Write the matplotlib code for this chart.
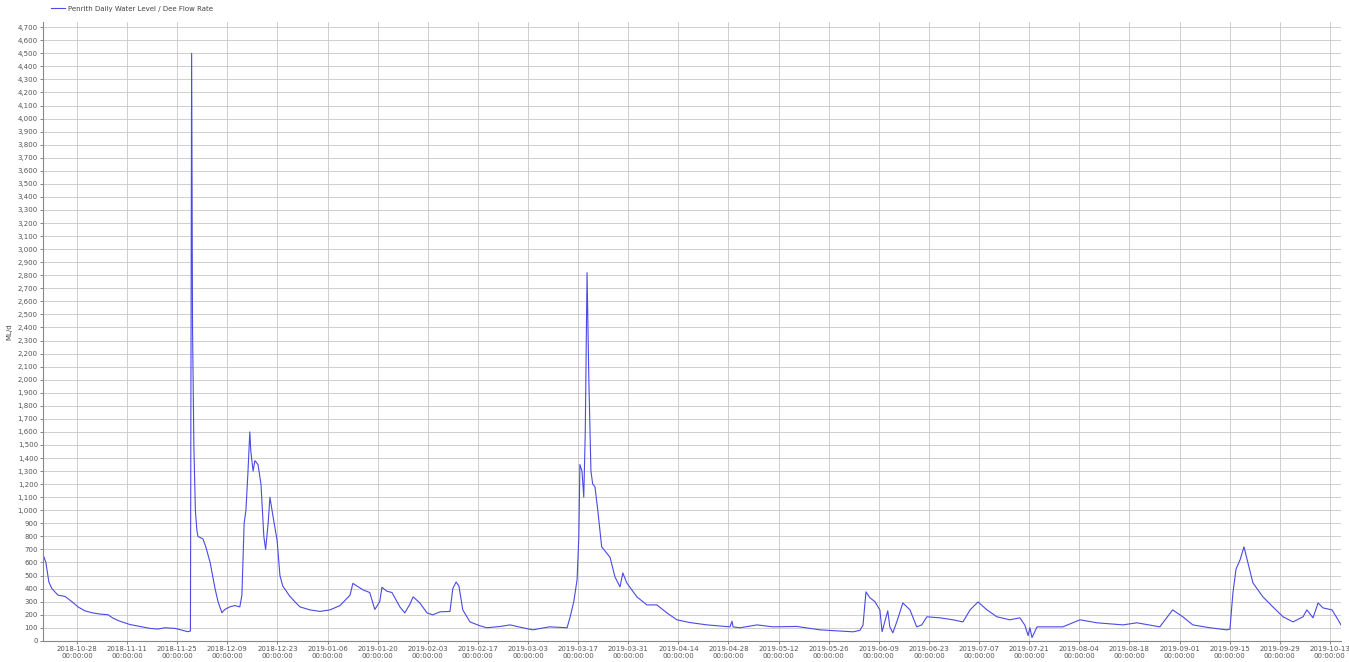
"""
Penrith daily water level / flow rate chart (ML/d), Oct 2018 - Oct 2019.
"""

#%%

import pandas as pd
import numpy as np
import matplotlib
matplotlib.use("Agg")
import matplotlib.pyplot as plt
import matplotlib.dates as mdates
from matplotlib.ticker import MultipleLocator, FuncFormatter

#%%

#=============================
# 0. Data
#=============================

series_name = "Penrith Daily Water Level / Dee Flow Rate"
y_label = "ML/d"

obs_time = [
    "2018-10-18 16:00", "2018-10-19 08:00", "2018-10-20 04:00", "2018-10-21 00:00",
    "2018-10-22 17:00", "2018-10-24 16:00", "2018-10-26 14:00", "2018-10-28 07:00",
    "2018-10-30 05:00", "2018-11-01 05:00", "2018-11-03 10:00", "2018-11-05 16:00",
    "2018-11-07 00:00", "2018-11-09 00:00", "2018-11-11 19:00", "2018-11-14 14:00",
    "2018-11-17 10:00", "2018-11-19 14:00", "2018-11-21 14:00", "2018-11-24 10:00",
    "2018-11-26 14:00", "2018-11-28 00:00", "2018-11-28 17:00", "2018-11-29 01:00",
    "2018-11-29 07:00", "2018-11-29 16:00", "2018-11-30 02:00", "2018-11-30 12:00",
    "2018-11-30 19:00", "2018-12-02 05:00", "2018-12-03 00:00", "2018-12-04 05:00",
    "2018-12-05 14:00", "2018-12-06 10:00", "2018-12-07 12:00", "2018-12-08 07:00",
    "2018-12-09 17:00", "2018-12-11 02:00", "2018-12-12 12:00", "2018-12-13 02:00",
    "2018-12-13 17:00", "2018-12-14 05:00", "2018-12-14 19:00", "2018-12-15 07:00",
    "2018-12-15 14:00", "2018-12-16 05:00", "2018-12-16 17:00", "2018-12-17 14:00",
    "2018-12-18 10:00", "2018-12-19 05:00", "2018-12-19 17:00", "2018-12-20 10:00",
    "2018-12-20 22:00", "2018-12-21 19:00", "2018-12-22 22:00", "2018-12-23 17:00",
    "2018-12-24 12:00", "2018-12-26 12:00", "2018-12-28 05:00", "2018-12-29 07:00",
    "2019-01-01 02:00", "2019-01-03 22:00", "2019-01-06 17:00", "2019-01-09 12:00",
    "2019-01-12 07:00", "2019-01-13 02:00", "2019-01-14 05:00", "2019-01-15 22:00",
    "2019-01-17 19:00", "2019-01-19 05:00", "2019-01-20 14:00", "2019-01-21 05:00",
    "2019-01-22 14:00", "2019-01-24 00:00", "2019-01-26 05:00", "2019-01-27 14:00",
    "2019-01-29 00:00", "2019-01-29 22:00", "2019-01-31 19:00", "2019-02-02 19:00",
    "2019-02-04 10:00", "2019-02-06 10:00", "2019-02-09 05:00", "2019-02-10 00:00",
    "2019-02-10 22:00", "2019-02-11 17:00", "2019-02-12 19:00", "2019-02-14 19:00",
    "2019-02-17 14:00", "2019-02-19 12:00", "2019-02-23 05:00", "2019-02-26 00:00",
    "2019-02-28 17:00", "2019-03-04 07:00", "2019-03-09 00:00", "2019-03-13 22:00",
    "2019-03-14 17:00", "2019-03-15 19:00", "2019-03-16 17:00", "2019-03-17 05:00",
    "2019-03-17 12:00", "2019-03-18 02:00", "2019-03-18 14:00", "2019-03-19 00:00",
    "2019-03-19 12:00", "2019-03-20 00:00", "2019-03-20 14:00", "2019-03-21 02:00",
    "2019-03-21 17:00", "2019-03-22 12:00", "2019-03-23 14:00", "2019-03-25 01:00",
    "2019-03-25 22:00", "2019-03-27 07:00", "2019-03-28 17:00", "2019-03-29 12:00",
    "2019-03-30 14:00", "2019-04-02 10:00", "2019-04-05 05:00", "2019-04-08 00:00",
    "2019-04-10 19:00", "2019-04-13 14:00", "2019-04-17 05:00", "2019-04-22 00:00",
    "2019-04-28 10:00", "2019-04-29 00:00", "2019-04-29 07:00", "2019-05-01 05:00",
    "2019-05-06 00:00", "2019-05-10 10:00", "2019-05-17 02:00", "2019-05-23 14:00",
    "2019-05-29 05:00", "2019-06-01 19:00", "2019-06-03 17:00", "2019-06-04 14:00",
    "2019-06-05 10:00", "2019-06-06 12:00", "2019-06-07 22:00", "2019-06-09 07:00",
    "2019-06-09 22:00", "2019-06-10 17:00", "2019-06-11 12:00", "2019-06-12 02:00",
    "2019-06-12 22:00", "2019-06-14 02:00", "2019-06-15 17:00", "2019-06-17 17:00",
    "2019-06-19 14:00", "2019-06-21 00:00", "2019-06-22 10:00", "2019-06-26 02:00",
    "2019-06-29 17:00", "2019-07-02 12:00", "2019-07-04 12:00", "2019-07-06 17:00",
    "2019-07-09 05:00", "2019-07-12 00:00", "2019-07-15 14:00", "2019-07-18 10:00",
    "2019-07-19 19:00", "2019-07-20 17:00", "2019-07-21 05:00", "2019-07-21 19:00",
    "2019-07-23 05:00", "2019-07-30 10:00", "2019-08-04 05:00", "2019-08-08 22:00",
    "2019-08-16 05:00", "2019-08-20 02:00", "2019-08-26 12:00", "2019-08-30 02:00",
    "2019-09-01 22:00", "2019-09-04 17:00", "2019-09-09 12:00", "2019-09-14 05:00",
    "2019-09-15 02:00", "2019-09-15 22:00", "2019-09-16 19:00", "2019-09-17 22:00",
    "2019-09-19 00:00", "2019-09-20 02:00", "2019-09-21 12:00", "2019-09-24 07:00",
    "2019-09-27 02:00", "2019-09-29 22:00", "2019-10-02 17:00", "2019-10-05 12:00",
    "2019-10-06 14:00", "2019-10-08 07:00", "2019-10-09 17:00", "2019-10-11 02:00",
    "2019-10-13 14:00", "2019-10-15 07:00", "2019-10-16 02:00",
]

flow = [
    650, 600, 450, 400,
    350, 340, 300, 260,
    230, 215, 205, 200,
    175, 150, 125, 110,
    95, 90, 100, 95,
    80, 70, 75, 4500,
    2400, 1500, 1000, 850,
    800, 780, 720, 600,
    400, 300, 215, 240,
    260, 270, 260, 350,
    900, 1000, 1300, 1600,
    1450, 1300, 1380, 1350,
    1200, 800, 700, 900,
    1100, 950, 770, 500,
    420, 340, 290, 260,
    237, 225, 237, 270,
    350, 440, 420, 390,
    370, 240, 300, 410,
    380, 370, 260, 214,
    280, 337, 290, 214,
    199, 222, 225, 400,
    450, 420, 237, 145,
    115, 100, 110, 122,
    105, 84, 107, 100,
    176, 300, 467, 800,
    1350, 1300, 1100, 1600,
    2820, 2000, 1300, 1200,
    1180, 1000, 720, 670,
    640, 490, 413, 520,
    444, 337, 275, 275,
    214, 161, 140, 122,
    107, 150, 107, 100,
    122, 107, 110, 84,
    75, 69, 80, 120,
    375, 330, 300, 237,
    70, 150, 230, 107,
    61, 150, 290, 237,
    107, 122, 184, 176,
    161, 145, 237, 298,
    237, 184, 161, 176,
    120, 40, 100, 25,
    107, 107, 161, 138,
    122, 138, 107, 237,
    184, 122, 100, 84,
    90, 367, 550, 620,
    720, 600, 444, 337,
    260, 184, 145, 184,
    237, 176, 290, 252,
    237, 161, 122,
]

tick_dates = [
    "2018-10-28", "2018-11-11", "2018-11-25", "2018-12-09", "2018-12-23",
    "2019-01-06", "2019-01-20", "2019-02-03", "2019-02-17", "2019-03-03",
    "2019-03-17", "2019-03-31", "2019-04-14", "2019-04-28", "2019-05-12",
    "2019-05-26", "2019-06-09", "2019-06-23", "2019-07-07", "2019-07-21",
    "2019-08-04", "2019-08-18", "2019-09-01", "2019-09-15", "2019-09-29",
    "2019-10-13",
]

x_start = "2018-10-18 15:30"
x_end = "2019-10-16 02:00"

#%%

#=============================
# 1. Plot
#=============================

df = pd.DataFrame({"time": pd.to_datetime(obs_time), "flow": flow})

fig = plt.figure(figsize=(13.49, 6.62), dpi=100)
ax = fig.add_axes([0.0322, 0.032, 0.9618, 0.9348])

ax.plot(df["time"], df["flow"], color="#4a4ae6", lw=0.8,
        label=series_name)

ax.set_xlim(pd.Timestamp(x_start), pd.Timestamp(x_end))
ax.set_ylim(0, 4740)

# axes ticks / grid
ax.yaxis.set_major_locator(MultipleLocator(100))
ax.yaxis.set_major_formatter(FuncFormatter(lambda v, p: f"{int(v):,}"))
ax.set_xticks(pd.to_datetime(tick_dates))
ax.xaxis.set_major_formatter(mdates.DateFormatter("%Y-%m-%d\n%H:%M:%S"))

ax.tick_params(axis="both", labelsize=5, colors="#555555", length=2,
               width=0.5, pad=2)
ax.grid(True, color="#c8c8c8", lw=0.6)
ax.set_axisbelow(True)
for side in ["top", "right"]:
    ax.spines[side].set_visible(False)
for side in ["left", "bottom"]:
    ax.spines[side].set_color("#888888")
    ax.spines[side].set_linewidth(0.8)

ax.set_ylabel(y_label, fontsize=5, color="#444444", labelpad=4)

fig.legend(loc="upper left", bbox_to_anchor=(0.034, 0.999), frameon=False,
           fontsize=5, handlelength=2.0, handletextpad=0.5, borderpad=0.2,
           labelcolor="#444444")

fig.savefig("out.png", dpi=100)
